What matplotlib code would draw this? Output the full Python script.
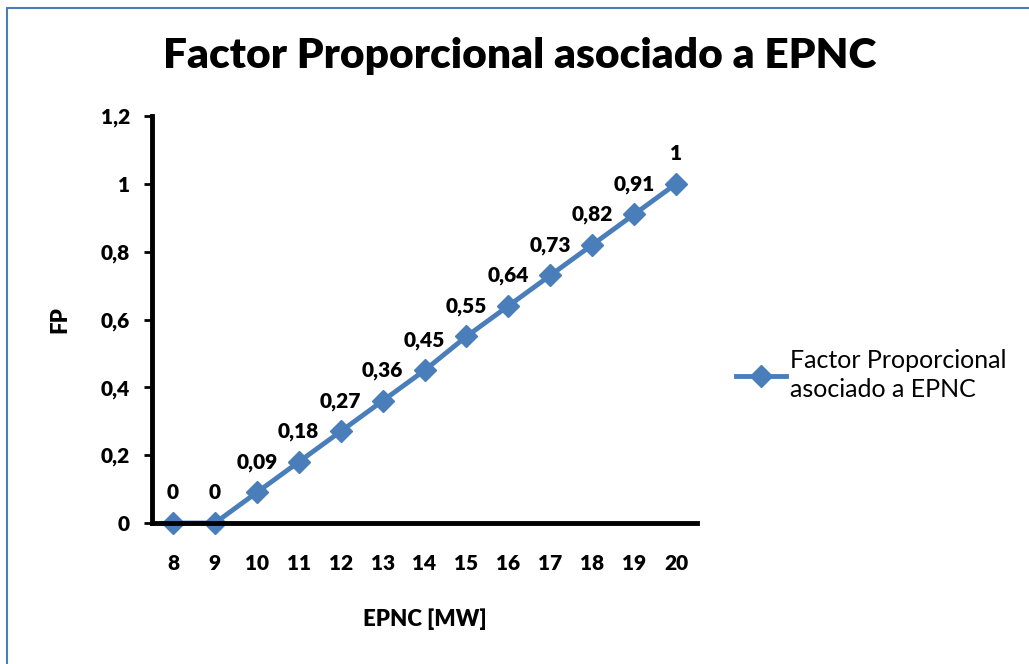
import matplotlib.pyplot as plt
from matplotlib.patches import Rectangle

epnc = [8, 9, 10, 11, 12, 13, 14, 15, 16, 17, 18, 19, 20]
fp = [0, 0, 0.09, 0.18, 0.27, 0.36, 0.45, 0.55, 0.64, 0.73, 0.82, 0.91, 1]
fp_labels = ["0", "0", "0,09", "0,18", "0,27", "0,36", "0,45", "0,55",
             "0,64", "0,73", "0,82", "0,91", "1"]
y_ticks = [0, 0.2, 0.4, 0.6, 0.8, 1.0, 1.2]
y_tick_labels = ["0", "0,2", "0,4", "0,6", "0,8", "1", "1,2"]

plt.rcParams['font.family'] = ['Lato', 'DejaVu Sans']
blue = "#4A7EBB"

fig = plt.figure(figsize=(10.29, 6.64), dpi=100)
W, H = 1029, 664

# chart frame
fig.patches.append(Rectangle((7 / W, -0.1), 1.2, 1 - 8 / H + 0.1, transform=fig.transFigure,
                             fill=False, edgecolor=blue, linewidth=1.5))

ax = fig.add_axes([152 / W, 1 - 523 / H, (697 - 152) / W, (523 - 116) / H])
line, = ax.plot(epnc, fp, color=blue, linewidth=3.5, marker="D", markersize=11,
                markeredgecolor=blue, label="Factor Proporcional\nasociado a EPNC", clip_on=False)

for x, y, s in zip(epnc, fp, fp_labels):
    ax.annotate(s, (x, y), xytext=(0, 15), textcoords="offset points", ha="center",
                va="bottom", fontsize=15, fontweight="heavy")

ax.set_xlim(7.5, 20.5)
ax.set_ylim(0, 1.2)
ax.set_xticks(epnc)
ax.set_xticklabels([str(v) for v in epnc])
ax.set_yticks(y_ticks)
ax.set_yticklabels(y_tick_labels)
ax.tick_params(axis="x", length=0, pad=22, labelsize=15)
ax.tick_params(axis="y", length=6, width=2, direction="out", pad=10, labelsize=15)
for lbl in ax.get_xticklabels() + ax.get_yticklabels():
    lbl.set_fontweight("heavy")

for side in ["top", "right"]:
    ax.spines[side].set_visible(False)
for side in ["left", "bottom"]:
    ax.spines[side].set_linewidth(3.5)

ax.set_xlabel("EPNC [MW]", fontsize=16, fontweight="heavy", labelpad=26)
ax.set_ylabel("FP", fontsize=16, fontweight="heavy", labelpad=22)

fig.text(520 / W, 1 - 56 / H, "Factor Proporcional asociado a EPNC", ha="center", va="center",
         fontsize=30.5, fontweight="heavy")

leg = fig.legend(handles=[line], loc="center left", bbox_to_anchor=(713 / W, 1 - 375 / H),
                 frameon=False, fontsize=18, handlelength=2.0, handletextpad=0.2)
for t in leg.get_texts():
    t.set_linespacing(1.35)

fig.savefig("out.png", dpi=100)
